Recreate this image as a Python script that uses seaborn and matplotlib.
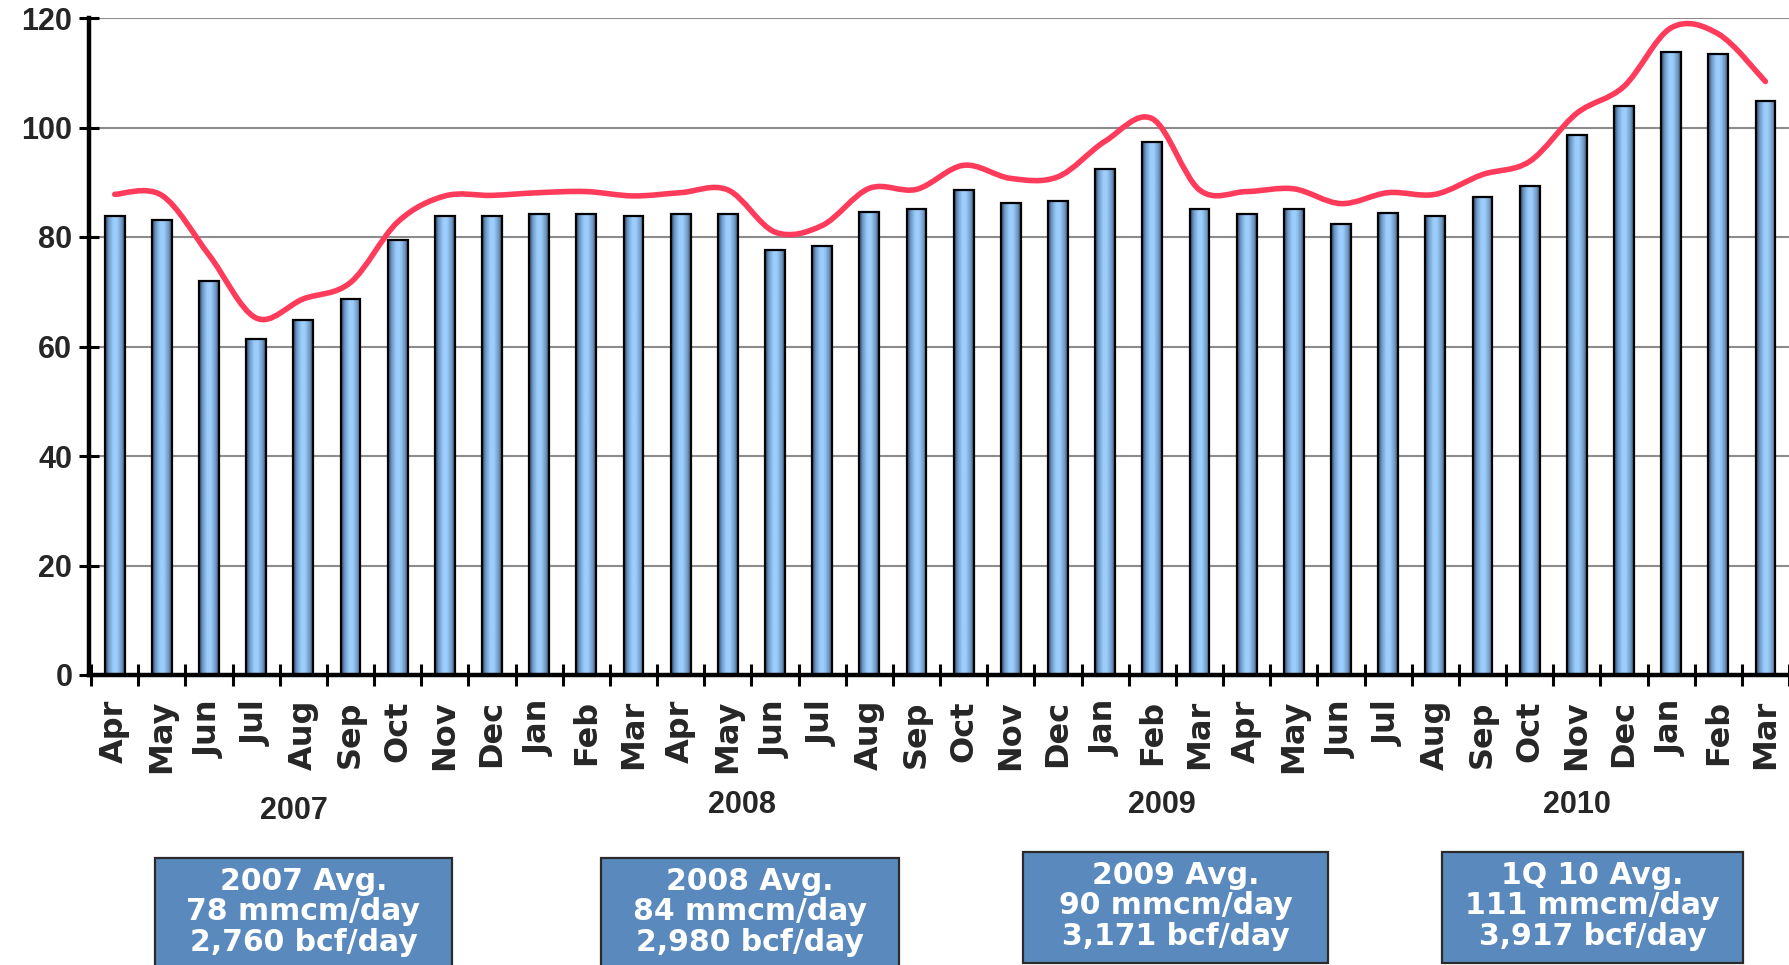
import numpy as np
import pandas as pd
import matplotlib
matplotlib.use("Agg")
import matplotlib.pyplot as plt
from matplotlib.path import Path
from matplotlib.patches import PathPatch, Rectangle
from matplotlib.colors import LinearSegmentedColormap
import matplotlib.transforms as mtransforms
import seaborn as sns

# Data
months = ["Apr", "May", "Jun", "Jul", "Aug", "Sep", "Oct", "Nov", "Dec", "Jan", "Feb", "Mar"] * 3
years = [2007] * 9 + [2008] * 12 + [2009] * 12 + [2010] * 3

bar_values = [83.9, 83.1, 71.9, 61.3, 64.8, 68.7, 79.5, 83.9, 83.9,
              84.2, 84.2, 83.9, 84.2, 84.2, 77.6, 78.4, 84.6, 85.1, 88.6, 86.2, 86.6,
              92.4, 97.4, 85.1, 84.2, 85.1, 82.4, 84.3, 83.9, 87.3, 89.3, 98.7, 104.0,
              113.8, 113.4, 104.9]

line_values = [87.8, 87.6, 76.7, 65.2, 68.7, 71.7, 82.75, 87.5, 87.6,
               88.1, 88.3, 87.5, 88.1, 88.6, 80.9, 82.1, 88.9, 88.7, 93.1, 90.7, 91.0,
               97.5, 101.6, 88.6, 88.3, 88.8, 86.1, 88.1, 87.8, 91.4, 93.8, 102.6, 107.5,
               118.2, 117.1, 108.4]

y_ticks = [0, 20, 40, 60, 80, 100, 120]

year_labels = ["2007", "2008", "2009", "2010"]
box_texts = ["2007 Avg.\n78 mmcm/day\n2,760 bcf/day",
             "2008 Avg.\n84 mmcm/day\n2,980 bcf/day",
             "2009 Avg.\n90 mmcm/day\n3,171 bcf/day",
             "1Q 10 Avg.\n111 mmcm/day\n3,917 bcf/day"]

# Layout (pixels in the 1789x965 canvas)
W, H = 1789, 965
year_label_x = [3.79, 13.3, 22.2, 31.0]          # data x
year_label_y = [811, 805, 805, 805]              # px from top
box_rects = [(155, 858, 452, 990), (601, 858, 899, 990),
             (1023, 852, 1328, 963), (1442, 852, 1743, 963)]
box_text_y = [912, 912, 906, 906]

df = pd.DataFrame({
    "period": [f"{m} {y}" for m, y in zip(months, years)],
    "value": bar_values,
})

sns.set_style("white")
plt.rcParams["font.family"] = ["DejaVu Sans"]

fig = plt.figure(figsize=(W / 100, H / 100), dpi=100)
ax = fig.add_axes([89 / W, 1 - 675 / H, 1 - 89 / W, (675 - 18) / H])

sns.barplot(data=df, x="period", y="value", order=list(df["period"]),
            width=0.42, color="#99CCFF", edgecolor="black", linewidth=1.6,
            saturation=1, ax=ax, zorder=3)

# horizontal gradient inside every bar, like the Excel fill
grad_cmap = LinearSegmentedColormap.from_list(
    "bar", [(0.0, "#2c425c"), (0.18, "#6c98c8"), (0.42, "#9ccdfc"),
            (0.6, "#9ccdfc"), (0.85, "#6f97c2"), (1.0, "#36506e")])
gradient = np.linspace(0, 1, 64).reshape(1, -1)
for p in ax.patches:
    x0, w, h = p.get_x(), p.get_width(), p.get_height()
    im = ax.imshow(gradient, cmap=grad_cmap, aspect="auto",
                   extent=[x0, x0 + w, 0, h], zorder=2.9, interpolation="bilinear")
    im.set_clip_path(p)
    p.set_facecolor("none")

# smoothed line (Excel style smooth curve through the monthly points)
pts = np.column_stack([np.arange(len(line_values)), line_values])
verts = [pts[0]]
codes = [Path.MOVETO]
for i in range(len(pts) - 1):
    p0 = pts[max(i - 1, 0)]
    p1, p2 = pts[i], pts[i + 1]
    p3 = pts[min(i + 2, len(pts) - 1)]
    verts += [p1 + (p2 - p0) / 6, p2 - (p3 - p1) / 6, p2]
    codes += [Path.CURVE4] * 3
ax.add_patch(PathPatch(Path(verts, codes), facecolor="none", edgecolor="#FF3B5C",
                       lw=4.0, capstyle="round", joinstyle="round", zorder=5))

ax.set_xlim(-0.546, 35.43)
ax.set_ylim(0, 120)
ax.set_yticks(y_ticks)
ax.yaxis.grid(True, color="#8c8c8c", lw=1.5)
ax.xaxis.grid(False)
ax.set_axisbelow(True)

for s in ["top", "right"]:
    ax.spines[s].set_visible(False)
for s in ["left", "bottom"]:
    ax.spines[s].set_linewidth(3.2)
    ax.spines[s].set_color("black")
    ax.spines[s].set_zorder(6)

ax.set_xticks(range(len(months)))
ax.set_xticklabels(months, rotation=90, fontsize=23, fontweight="bold", va="top")
ax.set_xticks(np.arange(-0.5, len(months), 1), minor=True)
ax.tick_params(axis="x", which="major", length=0, pad=18)
ax.tick_params(axis="x", which="minor", direction="inout", length=16, width=2.2,
               color="black", bottom=True)
ax.tick_params(axis="y", which="major", direction="inout", length=14, width=2.2,
               color="black", pad=5, left=True)
for lab in ax.get_yticklabels():
    lab.set_fontfamily("Liberation Sans")
    lab.set_fontweight("bold")
    lab.set_fontsize(22)
ax.set_xlabel("")
ax.set_ylabel("")

# year labels under the month names
trans = mtransforms.blended_transform_factory(ax.transData, fig.transFigure)
for txt, xv, yp in zip(year_labels, year_label_x, year_label_y):
    ax.text(xv, 1 - yp / H, txt, transform=trans, ha="center", va="center",
            fontsize=22, fontweight="bold", family="Liberation Sans", clip_on=False)

# average boxes
for (x0, y0, x1, y1), txt, ty in zip(box_rects, box_texts, box_text_y):
    fig.patches.append(Rectangle((x0 / W, 1 - y1 / H), (x1 - x0) / W, (y1 - y0) / H,
                                 transform=fig.transFigure, facecolor="#5A89BE",
                                 edgecolor="#2b2b2b", lw=1.6))
    fig.text((x0 + x1) / 2 / W, 1 - ty / H, txt, ha="center", va="center",
             color="white", fontsize=21.5, fontweight="bold", linespacing=1.05)

plt.savefig("out.png", dpi=100)
